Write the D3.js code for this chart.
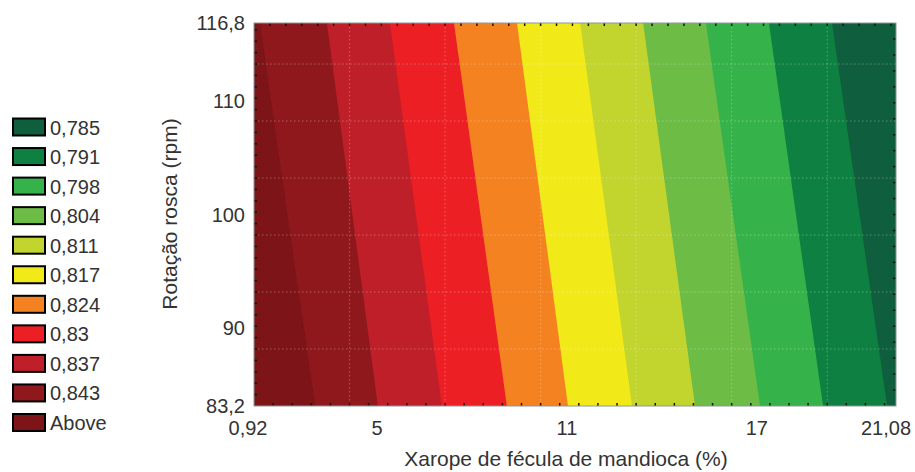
<!DOCTYPE html>
<html>
<head>
<meta charset="utf-8">
<script src="https://cdn.jsdelivr.net/npm/d3@7/dist/d3.min.js"></script>
<style>
  html, body { margin: 0; padding: 0; background: #ffffff; }
  svg { display: block; }
  text { font-family: "Liberation Sans", Arial, Helvetica, sans-serif; fill: #333333; }
</style>
</head>
<body>
<svg id="chart" width="915" height="472"></svg>
<script>
// ---- data ----
const xDomain = [0.92, 21.08];
const yDomain = [83.2, 116.8];
const xTickValues = [0.92, 5, 11, 17, 21.08];
const yTickValues = [83.2, 90, 100, 110, 116.8];

// legend, top to bottom
const legendLabels = ["0,785", "0,791", "0,798", "0,804", "0,811", "0,817", "0,824", "0,83", "0,837", "0,843", "Above"];
const legendColors = ["#0f5e3d", "#0e8041", "#35b34a", "#6cbc45", "#c2d52f", "#f2ea18", "#f58220", "#ec1f25", "#bf1f29", "#8f181d", "#7d1417"];

// band boundaries (x value where the band edge meets top y=116.8 and bottom y=83.2),
// from left (Above | 0,843) to right (0,791 | 0,785)
const boundaryTopX    = [1.11, 3.21, 5.19, 7.20, 9.18, 11.16, 13.14, 15.11, 17.09, 19.07];
const boundaryBottomX = [2.84, 4.81, 6.82, 8.86, 10.78, 12.79, 14.77, 16.81, 18.79, 20.80];

const xTitle = "Xarope de fécula de mandioca (%)";
const yTitle = "Rotação rosca (rpm)";

// ---- layout ----
const plot = { left: 254, right: 896, top: 23, bottom: 406 };
const svg = d3.select("#chart");

const x = d3.scaleLinear().domain(xDomain).range([plot.left, plot.right]);
const y = d3.scaleLinear().domain(yDomain).range([plot.bottom, plot.top]);
const xLabel = d3.scaleLinear().domain(xDomain).range([248, 886]);
const fmt = v => String(v).replace(".", ",");

svg.append("clipPath").attr("id", "plotclip")
  .append("rect")
  .attr("x", plot.left).attr("y", plot.top)
  .attr("width", plot.right - plot.left).attr("height", plot.bottom - plot.top);

const g = svg.append("g").attr("clip-path", "url(#plotclip)");

// band colours from left to right: Above, 0,843, ..., 0,785
const bandColors = legendColors.slice().reverse();

g.append("rect")
  .attr("x", plot.left).attr("y", plot.top)
  .attr("width", plot.right - plot.left).attr("height", plot.bottom - plot.top)
  .attr("fill", bandColors[0]);

const line = d3.line().x(d => x(d[0])).y(d => y(d[1]));
boundaryTopX.forEach((tx, i) => {
  const bx = boundaryBottomX[i];
  const pts = [[tx, yDomain[1]], [xDomain[1] + 1, yDomain[1]], [xDomain[1] + 1, yDomain[0]], [bx, yDomain[0]]];
  g.append("path")
    .attr("d", line(pts) + "Z")
    .attr("fill", bandColors[i + 1]);
});

// dotted grid
const xGrid = d3.range(xDomain[0] + 3, xDomain[1] - 0.5, 3);
const yGrid = d3.range(yDomain[0] + 5, yDomain[1] - 0.5, 5);
g.selectAll(".gx").data(xGrid).enter().append("line")
  .attr("x1", d => x(d)).attr("x2", d => x(d))
  .attr("y1", plot.top).attr("y2", plot.bottom)
  .attr("stroke", "#ffffff").attr("stroke-opacity", 0.3)
  .attr("stroke-width", 1).attr("stroke-dasharray", "1.5,2.5");
g.selectAll(".gy").data(yGrid).enter().append("line")
  .attr("y1", d => y(d)).attr("y2", d => y(d))
  .attr("x1", plot.left).attr("x2", plot.right)
  .attr("stroke", "#ffffff").attr("stroke-opacity", 0.3)
  .attr("stroke-width", 1).attr("stroke-dasharray", "1.5,2.5");

// minor inner ticks
const tickLen = 3;
const tickG = svg.append("g").attr("stroke", "#111").attr("stroke-width", 1.5);
d3.range(xDomain[0] + 0.5, xDomain[1], 0.5).forEach(v => {
  tickG.append("line").attr("x1", x(v)).attr("x2", x(v)).attr("y1", plot.top).attr("y2", plot.top + tickLen);
});
d3.range(xDomain[0] + 0.6, xDomain[1], 0.6).forEach(v => {
  tickG.append("line").attr("x1", x(v)).attr("x2", x(v)).attr("y1", plot.bottom).attr("y2", plot.bottom - tickLen);
});
d3.range(yDomain[0] + 1, yDomain[1], 1).forEach(v => {
  tickG.append("line").attr("y1", y(v)).attr("y2", y(v)).attr("x1", plot.left).attr("x2", plot.left + tickLen);
});
d3.range(yDomain[0] + 1.4, yDomain[1], 1.4).forEach(v => {
  tickG.append("line").attr("y1", y(v)).attr("y2", y(v)).attr("x1", plot.right).attr("x2", plot.right - tickLen);
});

// frame
svg.append("rect")
  .attr("x", plot.left).attr("y", plot.top)
  .attr("width", plot.right - plot.left).attr("height", plot.bottom - plot.top)
  .attr("fill", "none").attr("stroke", "#8c989c").attr("stroke-width", 1);

// tick labels
svg.selectAll(".xt").data(xTickValues).enter().append("text")
  .attr("x", d => xLabel(d)).attr("y", 435)
  .attr("text-anchor", "middle").attr("font-size", 20)
  .text(fmt);
svg.selectAll(".yt").data(yTickValues).enter().append("text")
  .attr("x", 245).attr("y", d => y(d) + 7)
  .attr("text-anchor", "end").attr("font-size", 20)
  .text(fmt);

// axis titles
svg.append("text")
  .attr("x", 566).attr("y", 466)
  .attr("text-anchor", "middle").attr("font-size", 21)
  .text(xTitle);
svg.append("text")
  .attr("transform", "translate(177,214) rotate(-90)")
  .attr("text-anchor", "middle").attr("font-size", 21)
  .text(yTitle);

// legend
const legendY = d3.scaleLinear().domain([0, legendLabels.length - 1]).range([127, 422.5]);
const lg = svg.append("g");
legendLabels.forEach((lab, i) => {
  const cy = legendY(i);
  lg.append("rect")
    .attr("x", 13).attr("y", cy - 8.5)
    .attr("width", 32).attr("height", 17)
    .attr("fill", legendColors[i])
    .attr("stroke", "#000").attr("stroke-width", 2);
  lg.append("text")
    .attr("x", 50).attr("y", cy + 7.5)
    .attr("font-size", 20)
    .text(lab);
});
</script>
</body>
</html>
